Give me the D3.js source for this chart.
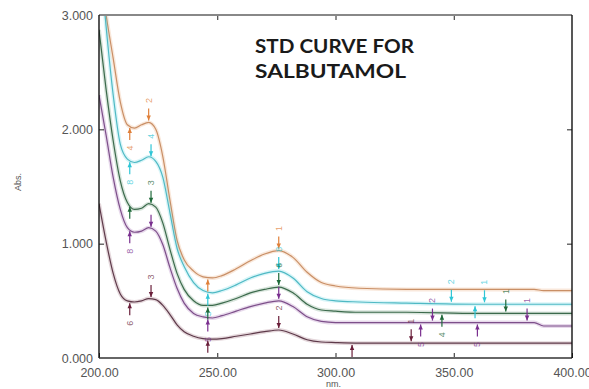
<!DOCTYPE html>
<html>
<head>
<meta charset="utf-8">
<script src="https://cdn.jsdelivr.net/npm/d3@7"></script>
<style>
body { margin: 0; background: #fff; }
svg { display: block; }
</style>
</head>
<body>
<script>
// wavelengths (nm) shared by all spectra
var wavelengths = [200, 203, 206, 209, 212, 215, 218, 221, 224, 227, 230, 233, 236, 240, 244, 248,
  252, 258, 264, 270, 276, 282, 288, 294, 300, 310, 330, 360, 384, 388, 400];

// absorbance, one array per standard
var absOrange = [3.45, 3.0, 2.62, 2.24, 2.04, 2.01, 2.04, 2.06, 2.0, 1.76, 1.38, 1.03, 0.86, 0.76, 0.71, 0.70,
  0.72, 0.78, 0.85, 0.91, 0.94, 0.88, 0.75, 0.66, 0.63, 0.61, 0.60, 0.60, 0.60, 0.59, 0.59];
var absCyan = [3.6, 2.9, 2.3, 1.87, 1.74, 1.71, 1.73, 1.76, 1.72, 1.58, 1.27, 0.96, 0.80, 0.66, 0.59, 0.57,
  0.59, 0.64, 0.70, 0.74, 0.76, 0.70, 0.58, 0.52, 0.50, 0.49, 0.48, 0.47, 0.47, 0.47, 0.47];
var absGreen = [2.87, 2.35, 1.9, 1.55, 1.36, 1.30, 1.31, 1.35, 1.32, 1.18, 0.95, 0.74, 0.60, 0.50, 0.46, 0.46,
  0.48, 0.52, 0.57, 0.60, 0.62, 0.57, 0.47, 0.42, 0.41, 0.40, 0.40, 0.39, 0.39, 0.39, 0.39];
var absPurple = [2.3, 1.95, 1.58, 1.30, 1.14, 1.10, 1.11, 1.14, 1.11, 0.99, 0.79, 0.61, 0.48, 0.39, 0.36, 0.35,
  0.37, 0.41, 0.45, 0.48, 0.50, 0.45, 0.36, 0.32, 0.31, 0.31, 0.31, 0.31, 0.31, 0.28, 0.28];
var absMaroon = [1.35, 1.02, 0.74, 0.56, 0.50, 0.49, 0.50, 0.52, 0.51, 0.46, 0.38, 0.29, 0.23, 0.19, 0.17, 0.165,
  0.17, 0.19, 0.21, 0.23, 0.245, 0.21, 0.16, 0.14, 0.135, 0.13, 0.13, 0.13, 0.13, 0.13, 0.13];

// peak pick markers: [nm, side, label]
var marksOrange = [[213, "below", "4"], [221, "above", "2"], [246, "below", ""], [276, "above", "1"]];
var marksCyan = [[213, "below", "8"], [222, "above", "4"], [246, "below", "5"], [276, "above", "8"],
  [349, "above", "2"], [359, "below", ""], [363, "above", "1"]];
var marksGreen = [[213, "below", ""], [222, "above", "3"], [246, "below", ""], [276, "above", "6"],
  [345, "below", "4"], [372, "above", "1"]];
var marksPurple = [[213, "below", "8"], [222, "above", ""], [246, "below", "5"], [276, "above", ""],
  [336, "below", "5"], [341, "above", "2"], [360, "below", "5"], [381, "above", "1"]];
var marksMaroon = [[213, "below", "6"], [222, "above", "3"], [246, "below", ""], [276, "above", "2"],
  [307, "below", ""], [332, "above", "1"]];

var xTicks = [200, 250, 300, 350, 400];
var yTicks = [0, 1, 2, 3];
var titleLines = ["STD CURVE FOR", "SALBUTAMOL"];

var series = [
  {values: absOrange, marks: marksOrange, color: "#c98f66", mark: "#e0803a"},
  {values: absCyan, marks: marksCyan, color: "#4fb9c4", mark: "#2fc6d6"},
  {values: absGreen, marks: marksGreen, color: "#3c6a4c", mark: "#1f6a3a"},
  {values: absPurple, marks: marksPurple, color: "#7d4f8a", mark: "#7a2f8f"},
  {values: absMaroon, marks: marksMaroon, color: "#5e3a4a", mark: "#6a1f3a"}
];

var W = 589, H = 389;
var margin = {top: 15, right: 17, bottom: 31, left: 99};
var width = W - margin.left - margin.right,
    height = H - margin.top - margin.bottom;

var svg = d3.select("body").append("svg")
  .attr("width", W)
  .attr("height", H);

var g = svg.append("g")
  .attr("transform", "translate(" + margin.left + "," + margin.top + ")");

var x = d3.scaleLinear().domain([200, 400]).range([0, width]);
var y = d3.scaleLinear().domain([0, 3]).range([height, 0]);

g.append("clipPath").attr("id", "clip")
  .append("rect").attr("width", width).attr("height", height);

// linear lookup on the read values, to place the markers on the curve
function absAt(values, nm) {
  var i = d3.bisectRight(wavelengths, nm);
  if (i <= 0) return values[0];
  if (i >= wavelengths.length) return values[values.length - 1];
  var t = (nm - wavelengths[i - 1]) / (wavelengths[i] - wavelengths[i - 1]);
  return values[i - 1] + t * (values[i] - values[i - 1]);
}

var line = d3.line()
  .x(function (d, i) { return x(wavelengths[i]); })
  .y(function (d) { return y(d); })
  .curve(d3.curveMonotoneX);

var curves = g.append("g").attr("clip-path", "url(#clip)");

series.forEach(function (s) {
  // soft coloured halo like the scanned print
  curves.append("path")
    .datum(s.values)
    .attr("d", line)
    .attr("fill", "none")
    .attr("stroke", s.mark)
    .attr("stroke-opacity", 0.18)
    .attr("stroke-width", 4);
  curves.append("path")
    .datum(s.values)
    .attr("d", line)
    .attr("fill", "none")
    .attr("stroke", s.color)
    .attr("stroke-width", 1.2);
});

// markers
var markLayer = g.append("g");
series.forEach(function (s) {
  s.marks.forEach(function (m) {
    var px = x(m[0]), py = y(absAt(s.values, m[0]));
    var dir = m[1] === "above" ? -1 : 1;
    var tip = py + dir * 2, tail = py + dir * 14;
    markLayer.append("line")
      .attr("x1", px).attr("x2", px)
      .attr("y1", tail).attr("y2", tip)
      .attr("stroke", s.mark)
      .attr("stroke-width", 1.2);
    markLayer.append("path")
      .attr("d", "M" + (px - 2.2) + "," + (tip + dir * 5) + "L" + (px + 2.2) + "," + (tip + dir * 5) + "L" + px + "," + tip + "Z")
      .attr("fill", s.mark);
    if (m[2]) {
      var ly = py + dir * 22;
      markLayer.append("text")
        .attr("x", px).attr("y", ly)
        .attr("transform", "rotate(-90," + px + "," + ly + ")")
        .attr("text-anchor", "middle")
        .attr("dominant-baseline", "central")
        .style("font-family", "Liberation Sans, Arial, sans-serif")
        .style("font-size", "9px")
        .attr("fill", s.mark)
        .attr("fill-opacity", 0.75)
        .text(m[2]);
    }
  });
});

// axes, ticks pointing inward
var fmtY = d3.format(".3f"), fmtX = d3.format(".2f");

g.append("g")
  .call(d3.axisLeft(y).tickValues(yTicks).tickSize(-5).tickPadding(6).tickFormat(fmtY));
g.append("g")
  .attr("transform", "translate(0," + height + ")")
  .call(d3.axisBottom(x).tickValues(xTicks).tickSize(-5).tickPadding(10).tickFormat(fmtX));
g.append("g")
  .call(d3.axisTop(x).tickValues(xTicks.slice(1, 4)).tickSize(-5).tickFormat(""));
g.append("g")
  .attr("transform", "translate(" + width + ",0)")
  .call(d3.axisRight(y).tickValues([1, 2]).tickSize(-5).tickFormat(""));

g.selectAll(".domain").remove();
g.selectAll(".tick line").attr("stroke", "#222");
g.selectAll(".tick text")
  .style("font-family", "Liberation Sans, Arial, sans-serif")
  .style("font-size", "12.5px")
  .attr("fill", "#555");

// frame
g.append("line").attr("x1", 0).attr("x2", width).attr("y1", 0).attr("y2", 0)
  .attr("stroke", "#888").attr("stroke-width", 2);
g.append("line").attr("x1", 0).attr("x2", width).attr("y1", height).attr("y2", height)
  .attr("stroke", "#666").attr("stroke-width", 2);
g.append("line").attr("x1", 0).attr("x2", 0).attr("y1", 0).attr("y2", height)
  .attr("stroke", "#111").attr("stroke-width", 1.4);
g.append("line").attr("x1", width).attr("x2", width).attr("y1", 0).attr("y2", height)
  .attr("stroke", "#111").attr("stroke-width", 1.4);

// axis titles
svg.append("text")
  .attr("x", margin.left + width / 2 - 2).attr("y", H - 2)
  .attr("text-anchor", "middle")
  .style("font-family", "Liberation Sans, Arial, sans-serif")
  .style("font-size", "9px")
  .attr("fill", "#555")
  .text("nm.");

svg.append("text")
  .attr("transform", "translate(21,182) rotate(-90)")
  .attr("text-anchor", "middle")
  .style("font-family", "Liberation Sans, Arial, sans-serif")
  .style("font-size", "9px")
  .attr("fill", "#555")
  .text("Abs.");

// title
var titleWidths = [159, 151];
svg.selectAll(".title")
  .data(titleLines)
  .enter().append("text")
  .attr("class", "title")
  .attr("x", 255)
  .attr("y", function (d, i) { return 53 + i * 25; })
  .attr("textLength", function (d, i) { return titleWidths[i]; })
  .attr("lengthAdjust", "spacingAndGlyphs")
  .style("font-family", "Lato, sans-serif")
  .style("font-weight", "bold")
  .style("font-size", "18.5px")
  .attr("fill", "#1a1a1a")
  .text(function (d) { return d; });
</script>
</body>
</html>
